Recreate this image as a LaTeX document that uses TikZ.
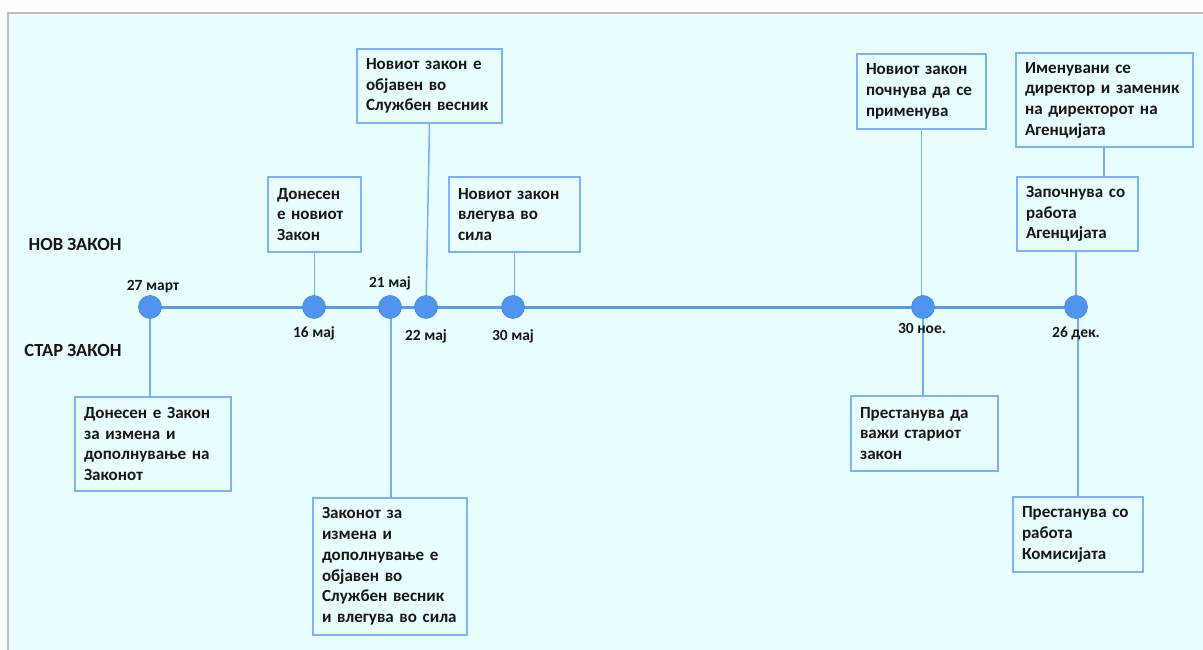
\documentclass[tikz,border=0pt]{standalone}
\usepackage{fontspec}
\setmainfont{Carlito}
\definecolor{bg}{HTML}{E9FEFF}
\definecolor{frame}{HTML}{BDBDBD}
\definecolor{boxblue}{HTML}{7DB4F7}
\definecolor{connblue}{HTML}{74ADF4}
\definecolor{lineblue}{HTML}{5A9BEC}
\definecolor{dotblue}{HTML}{4F94EE}
\definecolor{txt}{HTML}{161616}
\pgfdeclarelayer{panel}
\pgfdeclarelayer{lines}
\pgfsetlayers{panel,lines,main}
\begin{document}
\begin{tikzpicture}[x=1pt,y=-1pt,
  box/.style={draw=boxblue, line width=1.5pt, fill=bg, rectangle, inner xsep=9pt, inner ysep=0pt, align=left, font=\fontsize{17}{20.7}\selectfont\bfseries, text=txt},
  dot/.style={circle, fill=dotblue, draw=dotblue!92!black, line width=0.6pt, minimum size=23pt, inner sep=0pt},
  lbl/.style={font=\fontsize{15.5}{17}\selectfont\bfseries, text=txt, inner sep=0pt},
  side/.style={font=\fontsize{18.5}{20}\selectfont\bfseries, text=txt, inner sep=0pt},
  conn/.style={draw=connblue, line width=1.5pt},
  tl/.style={draw=lineblue, line width=3pt}]
\useasboundingbox (0,0) rectangle (1203,650);
\begin{pgfonlayer}{panel}
\fill[white] (0,0) rectangle (1203,650);
\draw[frame, line width=2pt, fill=bg] (8,13) -- (1210,13) -- (1210,660) -- (8,660) -- cycle;
\end{pgfonlayer}

% circles
\node[dot] (c1) at (150,307) {};
\node[dot] (c2) at (314,307) {};
\node[dot] (c3) at (390,307) {};
\node[dot] (c4) at (426,307) {};
\node[dot] (c5) at (513,307) {};
\node[dot] (c6) at (923,307) {};
\node[dot] (c7) at (1076,307) {};

% boxes
\node[box, text width=138pt, minimum height=94pt] (b1) at (153,444) {Донесен е Закон\\за измена и\\дополнување на\\Законот};
\node[box, text width=136pt, minimum height=137pt] (b2) at (390,566.5) {Законот за\\измена и\\дополнување е\\објавен во\\Службен весник\\и влегува во сила};
\node[box, text width=75pt, minimum height=75pt] (b3) at (314.5,214.5) {Донесен\\е новиот\\Закон};
\node[box, text width=127pt, minimum height=74pt] (b4) at (429.5,86) {Новиот закон е\\објавен во\\Службен весник};
\node[box, text width=113pt, minimum height=75pt] (b5) at (514.5,214.5) {Новиот закон\\влегува во\\сила};
\node[box, text width=111pt, minimum height=75pt] (b6) at (921.5,91.5) {Новиот закон\\почнува да се\\применува};
\node[box, text width=159pt, minimum height=94pt] (b7) at (1104.5,100) {Именувани се\\директор и заменик\\на директорот на\\Агенцијата};
\node[box, text width=103pt, minimum height=74pt] (b8) at (1077.5,214) {Започнува со\\работа\\Агенцијата};
\node[box, text width=129pt, minimum height=75pt] (b9) at (924.5,433.5) {Престанува да\\важи стариот\\закон};
\node[box, text width=112pt, minimum height=75pt] (b10) at (1078,534.5) {Престанува со\\работа\\Комисијата};

% timeline and connectors (behind circles and boxes)
\begin{pgfonlayer}{lines}
\draw[tl] (c1.center) -- (c7.center);
\draw[conn] (c1.center) -- (c1.center |- b1.north);
\draw[conn] (b3.south) -- (b3.south |- c2.center);
\draw[conn] (c3.center -| 391,0) -- (391,0 |- b2.north);
\draw[conn] (b4.south) -- (c4.center);
\draw[conn] (b5.south) -- (b5.south |- c5.center);
\draw[conn] (b6.south) -- (b6.south |- c6.center);
\draw[conn] (c6.center) -- (c6.center |- b9.north);
\draw[conn] (b7.south -| 1104,0) -- (1104,0 |- b8.north);
\draw[conn] (b8.south -| c7) -- (c7.center);
\draw[conn] (c7.center -| 1078,0) -- (1078,0 |- b10.north);
\end{pgfonlayer}

% date labels
\node[lbl] (l1) at (153,287) {27 март};
\node[lbl] (l2) at (314,333) {16 мај};
\node[lbl] (l3) at (390,283) {21 мај};
\node[lbl] (l4) at (426,336) {22 мај};
\node[lbl] (l5) at (513,336) {30 мај};
\node[lbl] (l6) at (922,328) {30 ное.};
\node[lbl] (l7) at (1076,333) {26 дек.};

\node[side] (nov) at (75,244) {НОВ ЗАКОН};
\node[side] (star) at (73,350) {СТАР ЗАКОН};
\end{tikzpicture}
\end{document}
